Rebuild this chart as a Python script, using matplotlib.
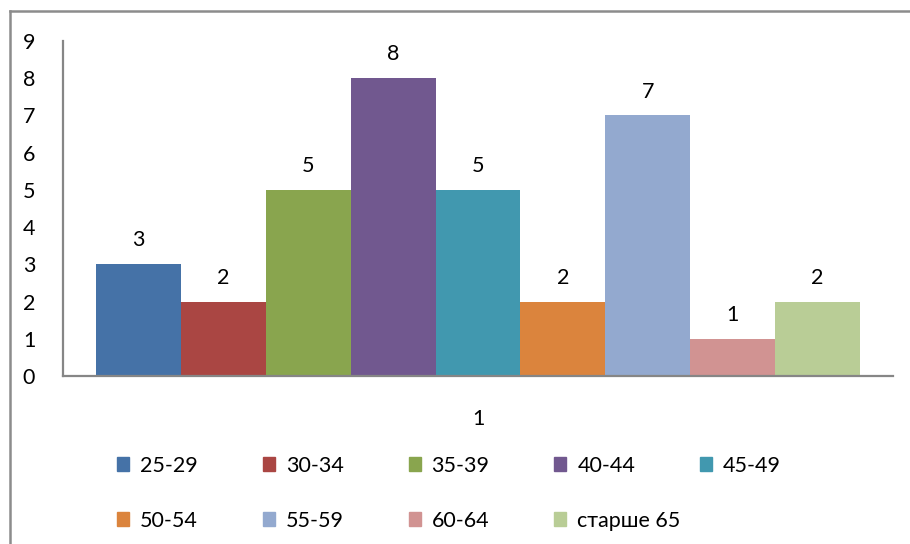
import numpy as np
import matplotlib.pyplot as plt
from matplotlib.patches import Rectangle
from matplotlib.lines import Line2D

# age groups and counts (single category "1")
groups = ["25-29", "30-34", "35-39", "40-44", "45-49", "50-54", "55-59", "60-64", "старше 65"]
counts = [3, 2, 5, 8, 5, 2, 7, 1, 2]
colors = ["#4572A7", "#AA4643", "#89A54E", "#71588F", "#4198AF",
          "#DB843D", "#93A9CF", "#D19392", "#B9CD96"]
category = "1"

plt.rcParams['font.family'] = ['Lato', 'DejaVu Sans']
fs = 15.5

fig = plt.figure(figsize=(9.1, 5.44), dpi=100)
ax = fig.add_axes([63 / 910, 1 - 376 / 544, 830 / 910, 335 / 544])

n = len(groups)
group_width = 0.9205
w = group_width / n
xs = -group_width / 2 + w / 2 + np.arange(n) * w
for i in range(n):
    ax.bar(xs[i], counts[i], width=w, color=colors[i], label=groups[i], zorder=2)
    ax.annotate(str(counts[i]), (xs[i], counts[i]), xytext=(0, 10), textcoords="offset points",
                ha="center", va="bottom", fontsize=fs)

ax.set_xlim(-0.5, 0.5)
ax.set_ylim(0, 9)
ax.set_yticks(range(0, 10))
ax.set_xticks([0])
ax.set_xticklabels([category])
ax.tick_params(axis="y", length=0, pad=20, labelsize=fs)
ax.tick_params(axis="x", length=0, pad=24, labelsize=fs)
for s in ["top", "right"]:
    ax.spines[s].set_visible(False)
for s in ["left", "bottom"]:
    ax.spines[s].set_color("#868686")
    ax.spines[s].set_linewidth(1.6)

# legend laid out Excel-style: equal column widths, 5 per row
for i in range(n):
    r, c = divmod(i, 5)
    x0 = 117 + c * 145.8
    y0 = 465 + r * 55
    fig.patches.append(Rectangle((x0 / 910, 1 - (y0 + 6) / 544), 12 / 910, 14 / 544,
                                 transform=fig.transFigure, color=colors[i]))
    fig.text((x0 + 23) / 910, 1 - (y0 + 1) / 544, groups[i], fontsize=fs, va="center", ha="left")

# chart frame (runs off the right and bottom edges)
fig.lines.append(Line2D([9.5 / 910, 1.0], [1 - 11 / 544, 1 - 11 / 544], transform=fig.transFigure,
                        color="#8c8c8c", linewidth=1.8))
fig.lines.append(Line2D([9.5 / 910, 9.5 / 910], [0, 1 - 11 / 544], transform=fig.transFigure,
                        color="#8c8c8c", linewidth=1.8))

fig.savefig("out.png", dpi=100)
